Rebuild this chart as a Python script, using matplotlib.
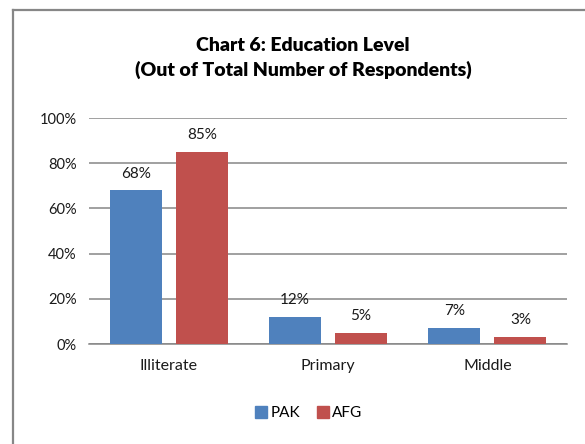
import matplotlib.pyplot as plt
import numpy as np
from matplotlib.lines import Line2D

categories = ['Illiterate', 'Primary', 'Middle']
pak = [68, 12, 7]
afg = [85, 5, 3]
series_names = ['PAK', 'AFG']
yticks = [0, 20, 40, 60, 80, 100]

blue = '#4F81BD'
red = '#C0504D'

plt.rcParams['font.family'] = ['Lato', 'DejaVu Sans']

fig = plt.figure(figsize=(5.85, 4.44), dpi=100)
W, H = 585, 444
ax = fig.add_axes([89 / W, 1 - 344 / H, (567 - 89) / W, (344 - 118) / H])

x = np.arange(len(categories))
bw = 0.327
off = 0.2075
b1 = ax.bar(x - off, pak, bw, color=blue, zorder=3)
b2 = ax.bar(x + off, afg, bw, color=red, zorder=3)

for bars, vals in ((b1, pak), (b2, afg)):
    for b, v in zip(bars, vals):
        ax.annotate(f'{v}%', (b.get_x() + b.get_width() / 2, v), xytext=(0, 7),
                    textcoords='offset points', ha='center', va='bottom',
                    fontsize=11, color='#1a1a1a')

ax.set_xlim(-0.5, 2.5)
ax.set_ylim(0, 100)
ax.set_yticks(yticks)
ax.set_yticklabels([f'{t}%' for t in yticks], fontsize=10.5, color='#1a1a1a')
ax.set_xticks(x)
ax.set_xticklabels(categories, fontsize=11.5, color='#1a1a1a')
ax.tick_params(axis='both', length=0, pad=9)
ax.tick_params(axis='x', pad=11)
ax.yaxis.grid(True, color='#868686', linewidth=1.1, zorder=0)
for s in ['top', 'right', 'left']:
    ax.spines[s].set_visible(False)
ax.spines['bottom'].set_color('#868686')
ax.spines['bottom'].set_linewidth(1.1)

fig.text(303 / W, 1 - 58 / H, 'Chart 6: Education Level\n(Out of Total Number of Respondents)',
         ha='center', va='center', fontsize=14, fontweight='heavy', linespacing=1.4,
         color='#000000')

handles = [Line2D([], [], marker='s', linestyle='', markersize=8, color=blue),
           Line2D([], [], marker='s', linestyle='', markersize=8, color=red)]
fig.legend(handles, series_names, loc='center', bbox_to_anchor=(308 / W, 1 - 413 / H),
           ncol=2, frameon=False, fontsize=11, handletextpad=0.1, columnspacing=1.0,
           handlelength=1.0)

# outer border (only top and left visible)
fig.add_artist(Line2D([12.5 / W, 1], [1 - 10 / H, 1 - 10 / H], color='#878787', linewidth=1.6))
fig.add_artist(Line2D([12.5 / W, 12.5 / W], [0, 1 - 10 / H], color='#878787', linewidth=1.6))

fig.savefig('out.png', dpi=100)
